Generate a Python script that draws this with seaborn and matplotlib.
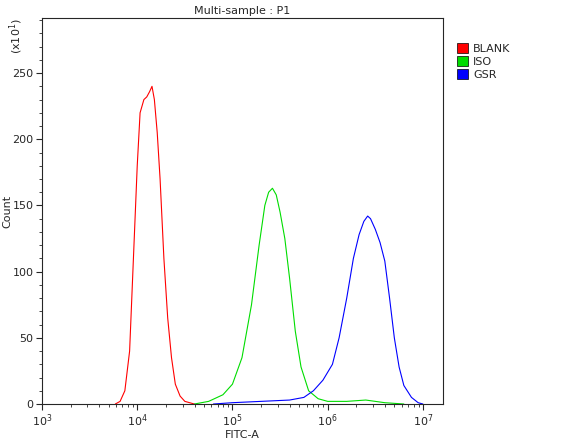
import numpy as np
import pandas as pd
import matplotlib
matplotlib.use("Agg")
import matplotlib.pyplot as plt
import seaborn as sns
from matplotlib.patches import Patch
from matplotlib.ticker import LogLocator, NullFormatter

sns.set_style("ticks")
plt.rcParams['font.family'] = ['DejaVu Sans']

labels = ["BLANK", "ISO", "GSR"]
colors = ["#ff0000", "#00dd00", "#0000ff"]

red_logx = [3.77,3.82,3.87,3.92,3.96,4.00,4.03,4.07,4.10,4.13,4.155,4.18,4.21,4.24,4.28,4.32,4.36,4.40,4.45,4.50,4.60]
red_y = [0,2,10,40,110,180,220,230,232,236,240,230,205,170,110,65,35,15,6,2,0]
green_logx = [4.6,4.75,4.9,5.0,5.1,5.2,5.28,5.34,5.38,5.42,5.46,5.50,5.55,5.60,5.66,5.72,5.80,5.90,6.0,6.2,6.4,6.6,6.8]
green_y = [0,2,7,15,35,75,120,150,160,163,158,145,125,95,55,28,10,4,2,2,3,1,0]
blue_logx = [4.8,5.0,5.3,5.6,5.75,5.85,5.95,6.05,6.12,6.2,6.27,6.33,6.38,6.42,6.45,6.50,6.55,6.60,6.65,6.70,6.75,6.80,6.88,6.95,7.0]
blue_y = [0,1,2,3,5,10,18,30,50,80,110,128,138,142,140,132,122,108,80,50,28,14,5,1,0]

frames = []
for lab, lx, y in zip(labels, [red_logx, green_logx, blue_logx], [red_y, green_y, blue_y]):
    frames.append(pd.DataFrame({"x": 10 ** np.array(lx), "y": y, "s": lab}))
df = pd.concat(frames)

fig = plt.figure(figsize=(5.81, 4.43), dpi=100)
ax = fig.add_axes([0.0723, 0.088, 0.69, 0.871])
sns.lineplot(data=df, x="x", y="y", hue="s", palette=colors, ax=ax, legend=False, linewidth=0.8, sort=False)
ax.set_xscale("log")
ax.set_xlim(1e3, 10 ** 7.21)
ax.set_ylim(0, 291.5)
ax.set_xticks([1e3, 1e4, 1e5, 1e6, 1e7])
ax.xaxis.set_minor_locator(LogLocator(base=10, subs=np.arange(2, 10)))
ax.xaxis.set_minor_formatter(NullFormatter())
ax.set_yticks([0, 50, 100, 150, 200, 250])
ax.set_yticks(np.arange(0, 291, 10), minor=True)
ax.tick_params(labelsize=8, direction="out", length=4, pad=2)
ax.tick_params(which="minor", length=2)
ax.set_xlabel("FITC-A", fontsize=8, labelpad=1)
ax.set_ylabel("Count", fontsize=8)
ax.yaxis.set_label_coords(-0.075, 0.5)
ax.set_title("Multi-sample : P1", fontsize=8, pad=3)
fig.text(0.012, 0.96, "(x10$^1$)", rotation=90, fontsize=8, va="top", ha="left")
handles = [Patch(facecolor=c, edgecolor="black", linewidth=0.5) for c in colors]
fig.legend(handles, labels, loc="upper left", bbox_to_anchor=(0.77, 0.925), frameon=False,
           fontsize=8, handlelength=1.0, handleheight=1.0, labelspacing=0.2, handletextpad=0.4)
fig.savefig("out.png", dpi=100)
